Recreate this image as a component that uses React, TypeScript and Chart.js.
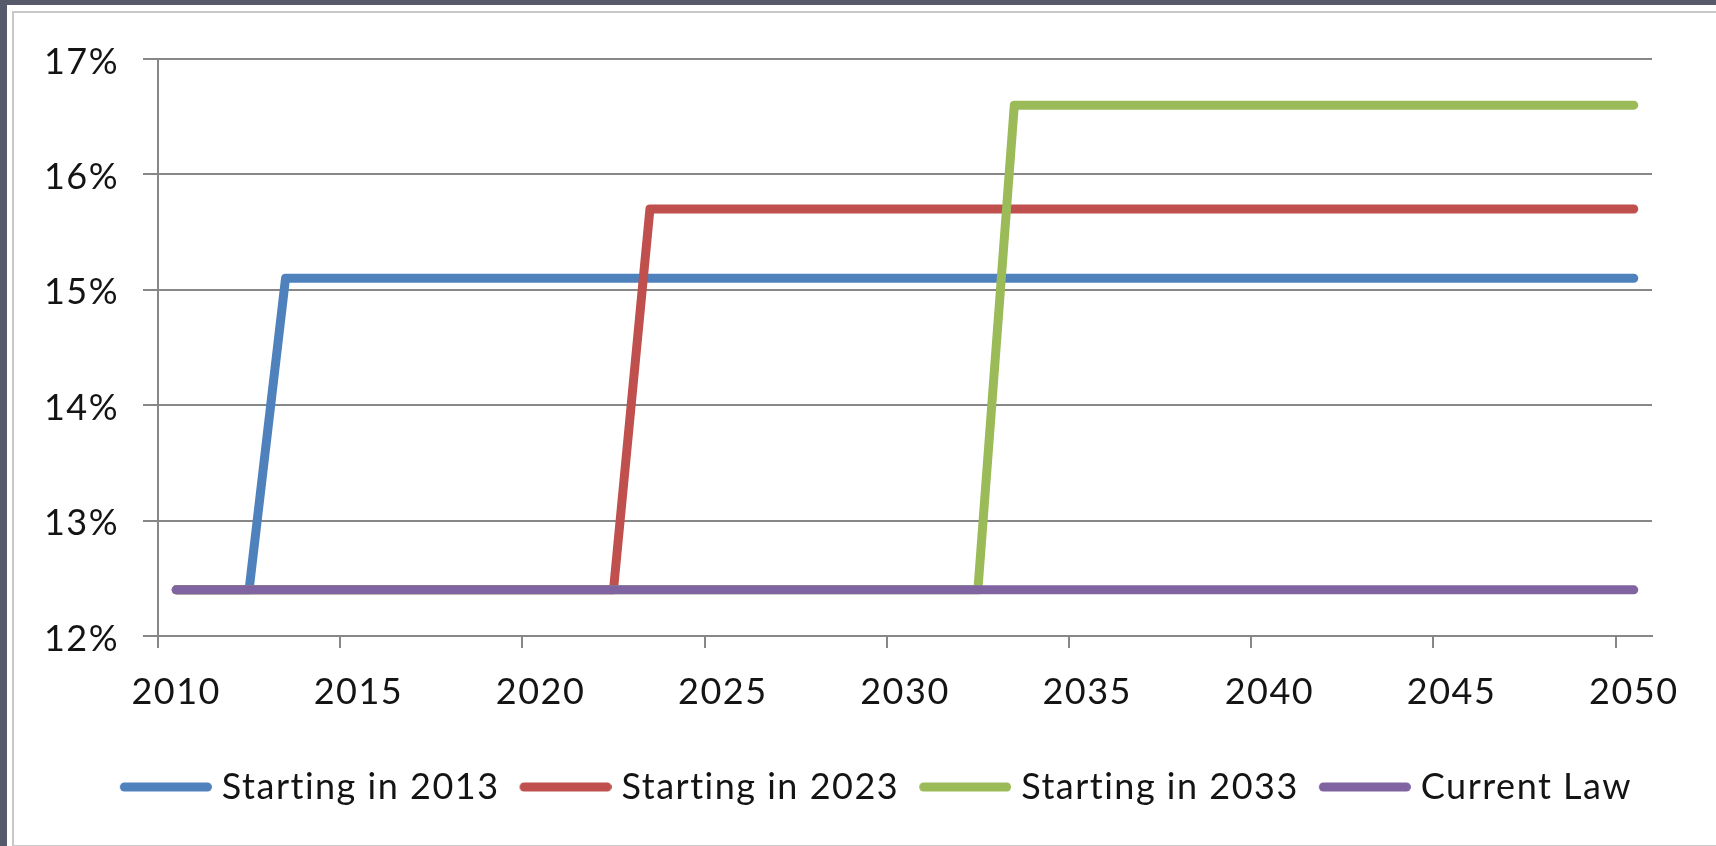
import React, { useEffect, useRef } from 'react';
import { Chart, registerables } from 'chart.js';

Chart.register(...registerables);

const years = [
  '2010', '2011', '2012', '2013', '2014', '2015', '2016', '2017', '2018', '2019',
  '2020', '2021', '2022', '2023', '2024', '2025', '2026', '2027', '2028', '2029',
  '2030', '2031', '2032', '2033', '2034', '2035', '2036', '2037', '2038', '2039',
  '2040', '2041', '2042', '2043', '2044', '2045', '2046', '2047', '2048', '2049',
  '2050',
];

const shownYears = ['2010', '2015', '2020', '2025', '2030', '2035', '2040', '2045', '2050'];

const starting2013 = [
  12.4, 12.4, 12.4, 15.1, 15.1, 15.1, 15.1, 15.1, 15.1, 15.1,
  15.1, 15.1, 15.1, 15.1, 15.1, 15.1, 15.1, 15.1, 15.1, 15.1,
  15.1, 15.1, 15.1, 15.1, 15.1, 15.1, 15.1, 15.1, 15.1, 15.1,
  15.1, 15.1, 15.1, 15.1, 15.1, 15.1, 15.1, 15.1, 15.1, 15.1,
  15.1,
];

const starting2023 = [
  12.4, 12.4, 12.4, 12.4, 12.4, 12.4, 12.4, 12.4, 12.4, 12.4,
  12.4, 12.4, 12.4, 15.7, 15.7, 15.7, 15.7, 15.7, 15.7, 15.7,
  15.7, 15.7, 15.7, 15.7, 15.7, 15.7, 15.7, 15.7, 15.7, 15.7,
  15.7, 15.7, 15.7, 15.7, 15.7, 15.7, 15.7, 15.7, 15.7, 15.7,
  15.7,
];

const starting2033 = [
  12.4, 12.4, 12.4, 12.4, 12.4, 12.4, 12.4, 12.4, 12.4, 12.4,
  12.4, 12.4, 12.4, 12.4, 12.4, 12.4, 12.4, 12.4, 12.4, 12.4,
  12.4, 12.4, 12.4, 16.6, 16.6, 16.6, 16.6, 16.6, 16.6, 16.6,
  16.6, 16.6, 16.6, 16.6, 16.6, 16.6, 16.6, 16.6, 16.6, 16.6,
  16.6,
];

const currentLaw = [
  12.4, 12.4, 12.4, 12.4, 12.4, 12.4, 12.4, 12.4, 12.4, 12.4,
  12.4, 12.4, 12.4, 12.4, 12.4, 12.4, 12.4, 12.4, 12.4, 12.4,
  12.4, 12.4, 12.4, 12.4, 12.4, 12.4, 12.4, 12.4, 12.4, 12.4,
  12.4, 12.4, 12.4, 12.4, 12.4, 12.4, 12.4, 12.4, 12.4, 12.4,
  12.4,
];

const seriesNames = ['Starting in 2013', 'Starting in 2023', 'Starting in 2033', 'Current Law'];
const seriesColors = ['#4F81BD', '#C0504D', '#9BBB59', '#8064A2'];

function legendLine(color: string) {
  const c = document.createElement('canvas');
  c.width = 100;
  c.height = 12;
  const g = c.getContext('2d')!;
  g.strokeStyle = color;
  g.lineWidth = 9;
  g.lineCap = 'round';
  g.beginPath();
  g.moveTo(12.5, 6);
  g.lineTo(95.5, 6);
  g.stroke();
  return c;
}

export default function App() {
  const ref = useRef<HTMLCanvasElement>(null);

  useEffect(() => {
    const FONT = { family: 'Lato', size: 36 };
    const TEXT = '#141414';
    const GRID = '#878787';
    const SPACING = '1.5px';
    const seriesData = [starting2013, starting2023, starting2033, currentLaw];
    const datasets = seriesData.map((data, i) => ({
      label: seriesNames[i],
      data,
      borderColor: seriesColors[i],
      backgroundColor: seriesColors[i],
      borderWidth: 9,
      pointRadius: 0,
      pointHoverRadius: 0,
      pointStyle: legendLine(seriesColors[i]) as any,
      borderCapStyle: 'round' as const,
      borderJoinStyle: 'round' as const,
      tension: 0,
      fill: false,
      order: 4 - i,
    }));

    const textSpacing = {
      id: 'textSpacing',
      beforeLayout(chart: any) {
        chart.ctx.letterSpacing = SPACING;
      },
      afterLayout(chart: any) {
        const lg = chart.legend;
        if (lg) {
          lg.left += 43;
          lg.right += 43;
        }
      },
      beforeDraw(chart: any) {
        chart.ctx.letterSpacing = SPACING;
      },
    };

    const chart = new Chart(ref.current!, {
      type: 'line',
      data: { labels: years, datasets },
      plugins: [textSpacing],
      options: {
        responsive: true,
        maintainAspectRatio: false,
        animation: false,
        layout: { padding: { left: 0, right: 64, top: 46, bottom: 29 } },
        plugins: {
          legend: {
            position: 'bottom',
            labels: {
              font: FONT,
              color: TEXT,
              usePointStyle: true,
              pointStyleWidth: 84,
              boxHeight: 36,
              padding: 20,
              sort: (a: any, b: any) => a.datasetIndex - b.datasetIndex,
            },
          },
          tooltip: { enabled: false },
        },
        scales: {
          x: {
            type: 'category',
            offset: true,
            grid: {
              offset: true,
              drawOnChartArea: false,
              drawTicks: true,
              tickLength: 12,
              lineWidth: 2,
              color: (ctx: any) =>
                ctx.index !== undefined && shownYears.includes(years[ctx.index]) ? GRID : 'rgba(0,0,0,0)',
            },
            border: { display: true, color: GRID, width: 2 },
            ticks: {
              autoSkip: false,
              maxRotation: 0,
              minRotation: 0,
              padding: 23,
              font: FONT,
              color: TEXT,
              callback: (_v: any, i: number) => (shownYears.includes(years[i]) ? years[i] : ''),
            },
            afterFit: (s: any) => {
              s.height = 113;
            },
          },
          y: {
            min: 12,
            max: 17,
            grid: { color: GRID, lineWidth: 2, tickLength: 15, drawTicks: true },
            border: { display: true, color: GRID, width: 2 },
            ticks: {
              stepSize: 1,
              padding: 24,
              labelOffset: 3,
              font: FONT,
              color: TEXT,
              callback: (v: any) => v + '%',
            },
            afterFit: (s: any) => {
              s.width = 144;
            },
          },
        },
      },
    });
    return () => chart.destroy();
  }, []);

  return (
    <div style={{ position: 'fixed', inset: 0, background: '#565a6b', overflow: 'hidden' }}>
      <div style={{ position: 'absolute', left: 7, top: 5, right: 0, bottom: 0, background: '#ffffff' }}>
        <div
          style={{
            position: 'absolute',
            left: 5,
            top: 6,
            right: -4,
            bottom: -1,
            border: '2px solid #c8c8c8',
            boxSizing: 'border-box',
          }}
        >
          <div style={{ position: 'absolute', left: 0, top: 0, width: 1702, height: 831 }}>
            <canvas ref={ref} />
          </div>
        </div>
      </div>
    </div>
  );
}
